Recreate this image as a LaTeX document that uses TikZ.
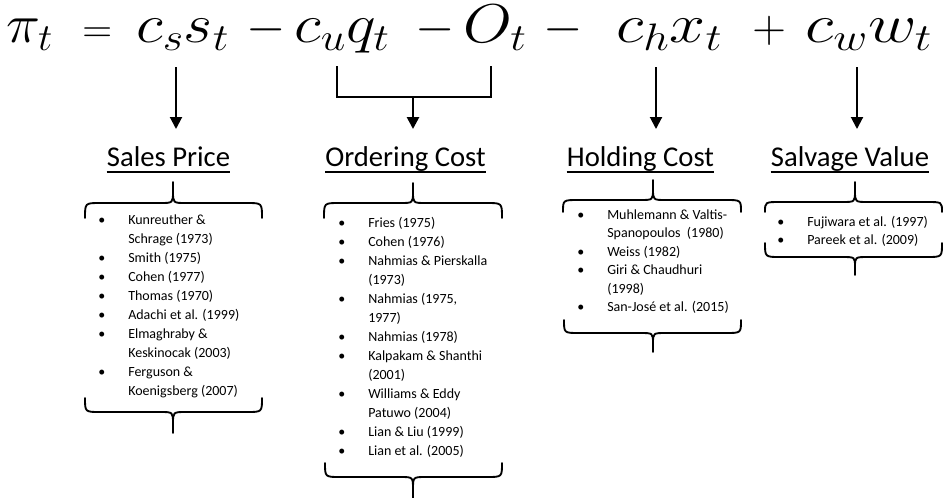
\RequirePackage{fix-cm}
\documentclass[tikz,border=0pt]{standalone}
\usepackage[no-math]{fontspec}
\setmainfont{Carlito}
\usetikzlibrary{arrows.meta}
\newcommand{\mybrace}[6]{%
  \draw[brace] (#1,#4) .. controls (#1,#5) .. (#1+15,#5) -- (#3-13,#5)
     .. controls (#3,#5) .. (#3,{#5+(#6-#5)*0.55}) -- (#3,#6);
  \draw[brace] (#3,{#5+(#6-#5)*0.55}) .. controls (#3,#5) .. (#3+13,#5)
     -- (#2-15,#5) .. controls (#2,#5) .. (#2,#4);}
\newcommand{\wideterm}[2][1.15]{\scalebox{#1}[1]{$#2$}}
\begin{document}
\begin{tikzpicture}[x=0.75pt,y=-0.75pt,
  eq/.style={anchor=base west, inner sep=0, font=\fontsize{41}{42}\selectfont},
  sym/.style={anchor=base west, inner sep=0, font=\fontsize{38}{40}\selectfont},
  head/.style={anchor=base, inner sep=0, font=\fontsize{21.5}{24}\selectfont},
  lst/.style={anchor=base west, inner sep=0, font=\fontsize{10.5}{14.25}\selectfont},
  arr/.style={line width=1.5pt, -{Triangle[length=9pt,width=9pt]}},
  brk/.style={line width=2pt},
  ul/.style={line width=1.5pt},
  brace/.style={line width=1.4pt, line cap=round}]
\useasboundingbox (0,0) rectangle (945,497);
\renewcommand{\arraystretch}{1}
% equation
\node[eq] (pi) at (6,42) {\wideterm[1.05]{\pi_t}};
\node[sym, font=\fontsize{31}{32}\selectfont] (eqs) at (82,42) {$=$};
\node[eq] (cs) at (136,42) {\wideterm{c_s s_t}};
\node[sym] (m1) at (246,42) {$-$};
\node[eq] (cu) at (294,42) {\wideterm{c_u q_t}};
\node[sym] (m2) at (415,42) {$-$};
\node[eq] (Ot) at (463,42) {\wideterm{O_t}};
\node[sym] (m3) at (543,42) {$-$};
\node[eq] (ch) at (616,42) {\wideterm[1.18]{c_h x_t}};
\node[sym, font=\fontsize{35}{36}\selectfont] (pl) at (752,42) {$+$};
\node[eq] (cw) at (805,42) {\wideterm[1.22]{c_w w_t}};
% arrows
\coordinate (a1s) at (176,67); \coordinate (a1e) at (176,129);
\coordinate (bl) at (337,66); \coordinate (br) at (491,66);
\coordinate (bm) at (413,97); \coordinate (bme) at (413,129);
\coordinate (a3s) at (656,67); \coordinate (a3e) at (656,129);
\coordinate (a4s) at (857,67); \coordinate (a4e) at (857,129);
\draw[arr] (a1s) -- (a1e);
\draw[brk] (bl) |- (bm) -| (br);
\draw[arr, line width=2pt] (bm) -- (bme);
\draw[arr] (a3s) -- (a3e);
\draw[arr] (a4s) -- (a4e);
% headings
\node[head] (hs) at (168.5,166) {Sales Price};
\node[head] (ho) at (405.5,166) {Ordering Cost};
\node[head] (hh) at (640.5,166) {Holding Cost};
\node[head] (hv) at (850,166) {Salvage Value};
\foreach \h in {hs,ho,hh,hv}
  \draw[ul] ([yshift=-4.5pt]\h.base west) -- ([yshift=-4.5pt]\h.base east);
% braces
\mybrace{85}{262}{173}{218}{203}{182}
\mybrace{85}{262}{173}{398}{412}{433}
\mybrace{324}{502}{413}{218}{203}{183}
\mybrace{325}{502}{413}{463}{477}{499}
\mybrace{563}{741}{653}{212}{200}{180}
\mybrace{564}{741}{653}{320}{333}{352}
\mybrace{765}{942}{855}{212}{202}{182}
\mybrace{765}{942}{855}{243}{257}{275}
% lists
\node[lst] (ls) at (98,224.5) {\begin{tabular}[t]{@{}p{22.5pt}@{}l@{}}
\textbullet & Kunreuther \&\\
 & Schrage (1973)\\
\textbullet & Smith (1975)\\
\textbullet & Cohen (1977)\\
\textbullet & Thomas (1970)\\
\textbullet & Adachi et al. (1999)\\
\textbullet & Elmaghraby \&\\
 & Keskinocak (2003)\\
\textbullet & Ferguson \&\\
 & Koenigsberg (2007)
\end{tabular}};
\node[lst] (lo) at (338,227.5) {\begin{tabular}[t]{@{}p{22.5pt}@{}l@{}}
\textbullet & Fries (1975)\\
\textbullet & Cohen (1976)\\
\textbullet & Nahmias \& Pierskalla\\
 & (1973)\\
\textbullet & Nahmias (1975,\\
 & 1977)\\
\textbullet & Nahmias (1978)\\
\textbullet & Kalpakam \& Shanthi\\
 & (2001)\\
\textbullet & Williams \& Eddy\\
 & Patuwo (2004)\\
\textbullet & Lian \& Liu (1999)\\
\textbullet & Lian et al. (2005)
\end{tabular}};
\node[lst, font=\fontsize{10.5}{13.8}\selectfont] (lh) at (577,219.5) {\begin{tabular}[t]{@{}p{22.5pt}@{}l@{}}
\textbullet & Muhlemann \& Valtis-\\
 & Spanopoulos\ \ (1980)\\
\textbullet & Weiss (1982)\\
\textbullet & Giri \& Chaudhuri\\
 & (1998)\\
\textbullet & San-José et al. (2015)
\end{tabular}};
\node[lst, font=\fontsize{10.5}{13.5}\selectfont] (lv) at (777,226.5) {\begin{tabular}[t]{@{}p{22.5pt}@{}l@{}}
\textbullet & Fujiwara et al. (1997)\\
\textbullet & Pareek et al. (2009)
\end{tabular}};
\end{tikzpicture}
\end{document}
